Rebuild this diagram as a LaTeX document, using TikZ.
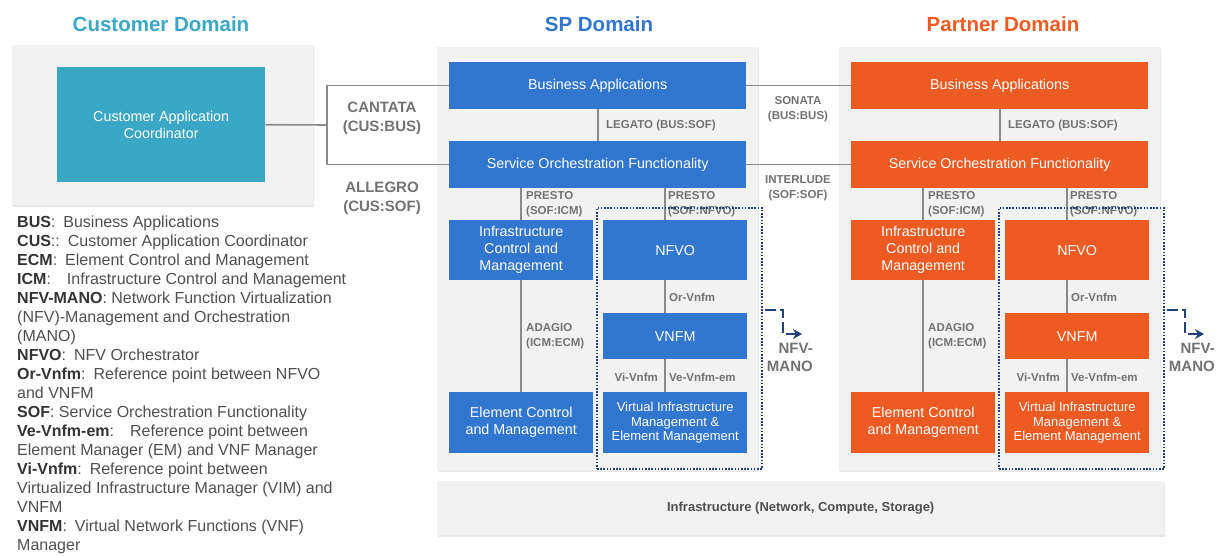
\documentclass[tikz,border=0pt]{standalone}
\usepackage{fontspec}
\setmainfont{Liberation Sans}
\usetikzlibrary{arrows,arrows.meta,shapes.misc,shadows}

\definecolor{custeal}{HTML}{3AA7C4}
\definecolor{spblue}{HTML}{3176CF}
\definecolor{ptorange}{HTML}{EE5B22}
\definecolor{panelgray}{HTML}{F2F2F2}
\definecolor{reflabel}{HTML}{727272}
\definecolor{refline}{HTML}{8A8A8A}
\definecolor{manonavy}{HTML}{22407C}
\definecolor{legendtext}{HTML}{4F4F4F}
\definecolor{legendkey}{HTML}{333333}

\newcommand{\legkey}[1]{{\color{legendkey}\bfseries #1}}

\begin{document}
\begin{tikzpicture}[
    x=1pt,
    y=-1pt,
    >=stealth',
    panel/.style={
        chamfered rectangle,
        chamfered rectangle corners=north east,
        chamfered rectangle sep=10pt,
        fill=panelgray,
        inner sep=0pt,
        anchor=north west,
        drop shadow={shadow xshift=1pt, shadow yshift=-2pt, fill=black!9, opacity=1},
    },
    flatpanel/.style={
        rectangle,
        fill=panelgray,
        inner sep=0pt,
        anchor=north west,
        drop shadow={shadow xshift=1pt, shadow yshift=-2pt, fill=black!9, opacity=1},
    },
    unit/.style={
        rectangle,
        fill=#1,
        text=white,
        font=\fontsize{14.3}{17}\selectfont,
        align=center,
        inner sep=0pt,
        anchor=north west,
    },
    unitwide/.style={
        unit=#1,
        minimum width=297pt,
        minimum height=47pt,
    },
    unithalf/.style={
        unit=#1,
        minimum width=144pt,
        minimum height=60pt,
    },
    reflbl/.style={
        text=reflabel,
        font=\fontsize{11.5}{14.5}\selectfont\bfseries,
        inner sep=0pt,
    },
    domlbl/.style={
        text=reflabel,
        font=\fontsize{15}{19}\selectfont\bfseries,
        align=center,
        inner sep=0pt,
    },
    domtitle/.style={
        font=\fontsize{20.5}{24}\selectfont\bfseries,
        inner sep=0pt,
    },
    refwire/.style={
        draw=refline,
        line width=1.6pt,
    },
    manobox/.style={
        draw=manonavy,
        line width=1.8pt,
        dash pattern=on 1.6pt off 1.6pt,
        inner sep=0pt,
        anchor=north west,
        minimum width=165pt,
        minimum height=261pt,
    },
    manoarrow/.style={
        -{Stealth[length=9pt, width=10pt]},
        draw=manonavy,
        line width=2.8pt,
        dash pattern=on 11pt off 4pt,
    },
    manolbl/.style={
        text=reflabel,
        font=\fontsize{15}{18}\selectfont\bfseries,
        align=right,
        inner sep=0pt,
        anchor=north east,
    },
    legend/.style={
        text=legendtext,
        font=\fontsize{16}{19}\selectfont,
        align=left,
        inner sep=0pt,
        anchor=north west,
    },
]
    \useasboundingbox (0,0) rectangle (1224,556);

    % titles
    \node[domtitle, text=custeal]  (custitle) at (161,24)  {Customer Domain};
    \node[domtitle, text=spblue]   (sptitle)  at (599,24)  {SP Domain};
    \node[domtitle, text=ptorange] (pttitle)  at (1003,24) {Partner Domain};

    % customer domain
    \node[panel, minimum width=301pt, minimum height=160pt] (cuspanel) at (12,45) {};
    \node[unit=custeal, minimum width=208pt, minimum height=115pt] (cac) at (57,67)
        {Customer Application\\Coordinator};

    % infrastructure
    \node[flatpanel, minimum width=727pt, minimum height=54pt,
          font=\fontsize{13}{16}\selectfont\bfseries, text=legendtext] (infra) at (437,481)
        {Infrastructure (Network, Compute, Storage)};

    % SP and partner domains
    \foreach \d/\dx/\c in {sp/0/spblue, pt/402/ptorange} {
        \begin{scope}[xshift=\dx pt]
            \node[panel, minimum width=321pt, minimum height=423pt] (\d-panel) at (437,47) {};

            \node[unitwide=\c] (\d-ba)  at (449,62)  {Business Applications};
            \node[unitwide=\c] (\d-sof) at (449,141) {Service Orchestration Functionality};
            \node[unithalf=\c] (\d-icm) at (449,220) {Infrastructure\\Control and\\Management};
            \node[unithalf=\c] (\d-nfvo) at (603,220) {NFVO};
            \node[unithalf=\c, minimum height=46pt] (\d-vnfm) at (603,313) {VNFM};
            \node[unithalf=\c, minimum height=61pt] (\d-ecm) at (449,392)
                {Element Control\\and Management};
            \node[unithalf=\c, minimum height=61pt, font=\fontsize{13}{14.5}\selectfont] (\d-vim) at (603,392)
                {Virtual Infrastructure\\Management \&\\Element Management};

            \coordinate (\d-x) at (665,0);
            \draw[refwire] (\d-ba) -- (\d-sof);
            \draw[refwire] (\d-sof.south -| \d-icm) -- (\d-icm);
            \draw[refwire] (\d-sof.south -| \d-x) -- (\d-nfvo.north -| \d-x);
            \draw[refwire] (\d-nfvo.south -| \d-x) -- (\d-vnfm.north -| \d-x);
            \draw[refwire] (\d-vnfm.south -| \d-x) -- (\d-vim.north -| \d-x);
            \draw[refwire] (\d-icm) -- (\d-ecm);

            \node[reflbl, anchor=west] (\d-legato) at (606,126) {LEGATO (BUS:SOF)};
            \node[reflbl, anchor=west, align=left] (\d-prestoicm) at (526,204) {PRESTO\\(SOF:ICM)};
            \node[reflbl, anchor=west, align=left] (\d-prestonfvo) at (668,204) {PRESTO\\(SOF:NFVO)};
            \node[reflbl, anchor=west, align=left] (\d-adagio) at (526,336) {ADAGIO\\(ICM:ECM)};
            \node[reflbl, anchor=west] (\d-orvnfm) at (669,297) {Or-Vnfm};
            \node[reflbl, anchor=east] (\d-vivnfm) at (658,377) {Vi-Vnfm};
            \node[reflbl, anchor=west] (\d-vevnfm) at (669,377) {Ve-Vnfm-em};

            \node[manobox] (\d-mano) at (596,207) {};
            \coordinate (\d-ms) at (765,310);
            \coordinate (\d-mk) at (783,310);
            \coordinate (\d-me) at (802,334);
            \draw[manoarrow] (\d-ms) -- (\d-mk) |- (\d-me);
            \node[manolbl] (\d-manolbl) at (813,343) {NFV-\\MANO};
        \end{scope}
    }

    % interfaces between domains
    \coordinate (cj) at (327,125);
    \draw[refwire] (cac.east) -- (cj);
    \draw[refwire] (sp-ba) -| (cj) |- (sp-sof);
    \draw[refwire] (sp-ba) -- (pt-ba);
    \draw[refwire] (sp-sof) -- (pt-sof);

    \node[domlbl] (cantata)   at (382,118) {CANTATA\\(CUS:BUS)};
    \node[domlbl] (allegro)   at (382,198) {ALLEGRO\\(CUS:SOF)};
    \node[reflbl, align=center] (sonata)    at (798,109) {SONATA\\(BUS:BUS)};
    \node[reflbl, align=center] (interlude) at (798,188) {INTERLUDE\\(SOF:SOF)};

    % abbreviations
    \node[legend] (legend) at (17,216) {%
        \legkey{BUS}:\enspace Business Applications\\
        \legkey{CUS}::\enspace Customer Application Coordinator\\
        \legkey{ECM}:\enspace Element Control and Management\\
        \legkey{ICM}:\quad Infrastructure Control and Management\\
        \legkey{NFV-MANO}: Network Function Virtualization\\
        (NFV)-Management and Orchestration\\
        (MANO)\\
        \legkey{NFVO}:\enspace NFV Orchestrator\\
        \legkey{Or-Vnfm}:\enspace Reference point between NFVO\\
        and VNFM\\
        \legkey{SOF}: Service Orchestration Functionality\\
        \legkey{Ve-Vnfm-em}:\quad Reference point between\\
        Element Manager (EM) and VNF Manager\\
        \legkey{Vi-Vnfm}:\enspace Reference point between\\
        Virtualized Infrastructure Manager (VIM) and\\
        VNFM\\
        \legkey{VNFM}:\enspace Virtual Network Functions (VNF)\\
        Manager};
\end{tikzpicture}
\end{document}
